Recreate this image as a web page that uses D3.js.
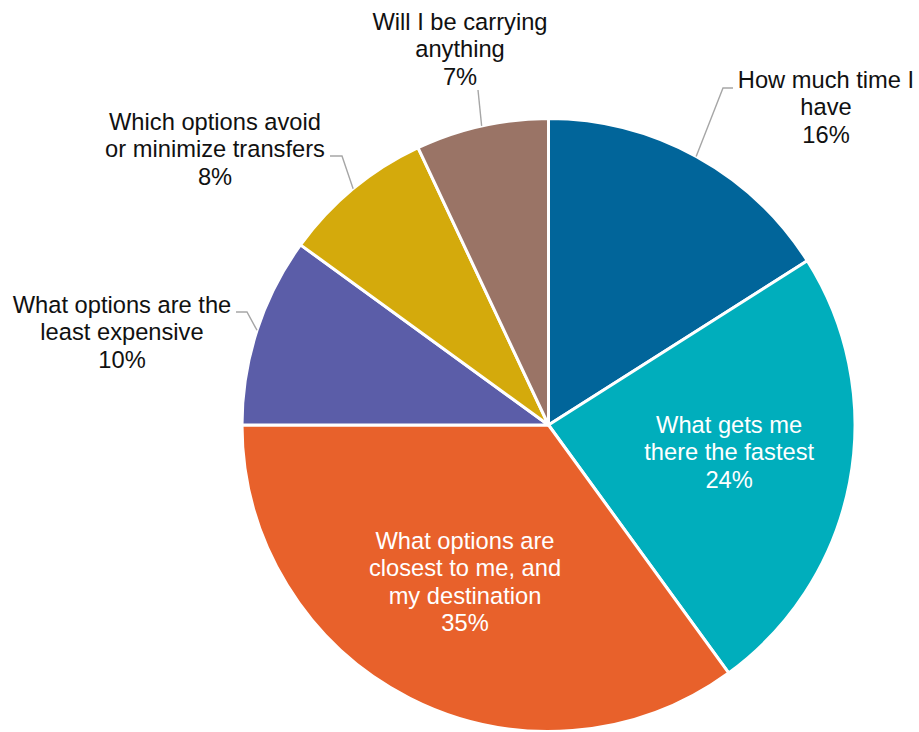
<!DOCTYPE html>
<html>
<head>
<meta charset="utf-8">
<script src="https://cdn.jsdelivr.net/npm/d3@7"></script>
<style>
  html, body { margin: 0; padding: 0; background: #fff; }
  svg { display: block; }
  text { font-family: "Liberation Sans", Arial, sans-serif; }
</style>
</head>
<body>
<svg id="chart" width="919" height="732"></svg>
<script>
// Survey answers, clockwise from 12 o'clock
const categories = [
  "How much time I have",
  "What gets me there the fastest",
  "What options are closest to me, and my destination",
  "What options are the least expensive",
  "Which options avoid or minimize transfers",
  "Will I be carrying anything"
];
const values = [16, 24, 35, 10, 8, 7];
const labelLines = [
  ["How much time I", "have"],
  ["What gets me", "there the fastest"],
  ["What options are", "closest to me, and", "my destination"],
  ["What options are the", "least expensive"],
  ["Which options avoid", "or minimize transfers"],
  ["Will I be carrying", "anything"]
];
const colors = ["#01659a", "#00aebc", "#e8612b", "#5b5da8", "#d4aa0c", "#9a7466"];

// Where the outside labels sit and how their leader lines bend
const outsideLayout = {
  0: { x: 826, y: 88,  elbow: [723, 88],  end: [733, 88] },
  3: { x: 122, y: 313, elbow: [247, 312], end: [236, 312] },
  4: { x: 215, y: 130, elbow: [342, 156], end: [330, 156] },
  5: { x: 460, y: 30,  elbow: null,       end: [478, 90] }
};

const cx = 548.5, cy = 425, radius = 306.5;
const fontSize = 23.7, lineH = 27.3;

const svg = d3.select("#chart");
const g = svg.append("g").attr("transform", `translate(${cx},${cy})`);

const pie = d3.pie().sort(null).value(d => d)(values);
const arc = d3.arc().innerRadius(0).outerRadius(radius);
const edgeArc = d3.arc().innerRadius(radius).outerRadius(radius);
const innerLabelArc = d3.arc().innerRadius(radius * 0.6).outerRadius(radius * 0.6);

g.selectAll("path.slice")
  .data(pie)
  .join("path")
  .attr("class", "slice")
  .attr("d", arc)
  .attr("fill", (d, i) => colors[i])
  .attr("stroke", "#fff")
  .attr("stroke-width", 3)
  .attr("stroke-linejoin", "round");

// Leader lines for labels outside the pie
pie.forEach((d, i) => {
  const lay = outsideLayout[i];
  if (!lay) return;
  const [px, py] = edgeArc.centroid(d);
  const pts = [[cx + px, cy + py]];
  if (lay.elbow) pts.push(lay.elbow);
  pts.push(lay.end);
  svg.append("path")
    .attr("d", d3.line()(pts))
    .attr("fill", "none")
    .attr("stroke", "#a6a6a6")
    .attr("stroke-width", 1.4);
});

// Labels
pie.forEach((d, i) => {
  const lines = labelLines[i].concat([values[i] + "%"]);
  const lay = outsideLayout[i];
  let x, y0, fill;
  if (lay) {
    x = lay.x; y0 = lay.y; fill = "#111";
  } else {
    const [lx, ly] = innerLabelArc.centroid(d);
    x = cx + lx;
    y0 = cy + ly - ((lines.length - 1) / 2) * lineH + 1;
    fill = "#fff";
  }
  const t = svg.append("text")
    .attr("text-anchor", "middle")
    .attr("font-size", fontSize)
    .attr("fill", fill);
  lines.forEach((s, k) => {
    t.append("tspan").attr("x", x).attr("y", y0 + k * lineH).text(s);
  });
});
</script>
</body>
</html>
